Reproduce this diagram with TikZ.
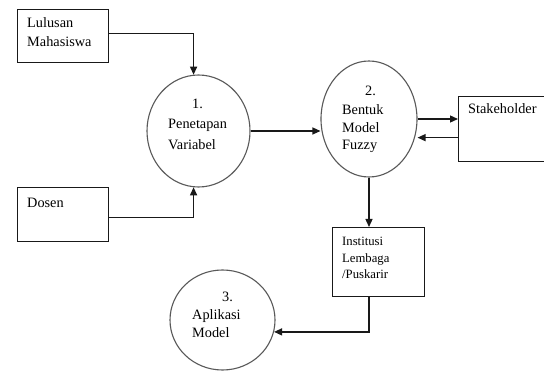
\documentclass[tikz,border=0pt]{standalone}
\usepackage{fontspec}
\setmainfont{Liberation Serif}
\usetikzlibrary{shapes.geometric,arrows.meta}
\begin{document}
\begin{tikzpicture}[x=1pt,y=-1pt,
  box/.style={draw=black!90,line width=1.3pt,rectangle,inner sep=0pt,anchor=north west},
  proc/.style={draw=black!65,line width=1.1pt,ellipse,inner sep=0pt},
  txt/.style={anchor=base west,inner sep=0pt,font=\fontsize{14.3}{18}\selectfont,text=black},
  stxt/.style={anchor=base west,inner sep=0pt,font=\fontsize{12.7}{16}\selectfont,text=black},
  arr/.style={draw=black!90,line width=1.3pt,-{Triangle[length=8pt,width=7pt]}}]
\useasboundingbox[fill=white] (0,0) rectangle (544,371);
% boxes
\node[box,minimum width=91pt,minimum height=53pt] (lm) at (17,9) {};
\node[box,minimum width=91pt,minimum height=54pt] (ds) at (17,187) {};
\node[box,minimum width=110pt,minimum height=65pt] (sh) at (458,96) {};
\node[box,minimum width=92pt,minimum height=69pt] (in) at (332,227) {};
% processes
\node[proc,minimum width=103pt,minimum height=112pt] (c1) at (198.5,131) {};
\node[proc,minimum width=96pt,minimum height=116pt] (c2) at (369,119) {};
\node[proc,minimum width=105pt,minimum height=100pt] (c3) at (222.5,320) {};
% texts
\node[txt] (t1a) at (27,28) {Lulusan};
\node[txt] (t1b) at (27,47) {Mahasiswa};
\node[txt] (t2) at (27,208) {Dosen};
\node[txt] (t3) at (468,114) {Stakeholder};
\node[stxt] (t4a) at (342,246) {Institusi};
\node[stxt] (t4b) at (342,263) {Lembaga};
\node[stxt] (t4c) at (342,279) {/Puskarir};
\node[txt] (p1a) at (192,109) {1.};
\node[txt] (p1b) at (168,129) {Penetapan};
\node[txt] (p1c) at (168,150) {Variabel};
\node[txt] (p2a) at (365,96) {2.};
\node[txt] (p2b) at (342,115) {Bentuk};
\node[txt] (p2c) at (342,133) {Model};
\node[txt] (p2d) at (342,150) {Fuzzy};
\node[txt] (p3a) at (222,302) {3.};
\node[txt] (p3b) at (192,320) {Aplikasi};
\node[txt] (p3c) at (192,338) {Model};
% connectors
\coordinate (la) at ([yshift=2.5pt]lm.east);
\draw[arr] (la) -| (c1.95);
\coordinate (da) at ([yshift=-3pt]ds.east);
\draw[arr] (da) -| (c1.265);
\draw[arr] (c1.east) -- (c1.east -| c2.west);
\draw[arr] (c2.east) -- (c2.east -| sh.west);
\coordinate (shb) at ([yshift=-8.5pt]sh.west);
\draw[arr] (shb) -- (shb -| c2.east);
\draw[arr] (c2.south) -- (c2.south |- in.north);
\coordinate (ib) at (c2.south |- in.south);
\draw[arr] (ib) |- (c3.-13);
\end{tikzpicture}
\end{document}
